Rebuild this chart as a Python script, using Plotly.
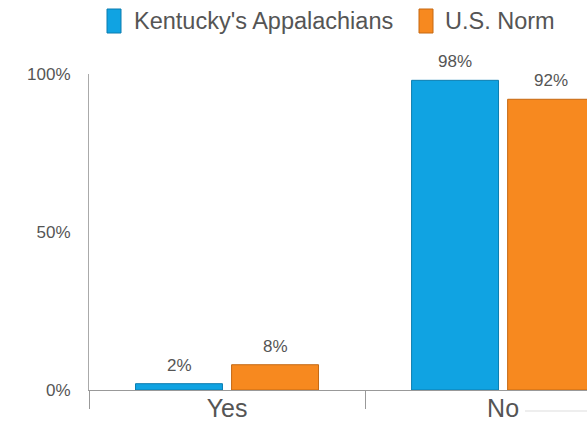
import plotly.graph_objects as go

categories = ["Yes", "No"]
kentucky = [2, 98]
us_norm = [8, 92]
series_names = ["Kentucky's Appalachians", "U.S. Norm"]
y_ticks = [0, 50, 100]

FONT = "Liberation Sans, Arial, sans-serif"
GREY = "#555555"
BLUE, BLUE_EDGE = "#10A3E2", "#0B7DB0"
ORANGE, ORANGE_EDGE = "#F7891F", "#C56812"

W, H = 587, 421
M_L, M_R, M_T, M_B = 89, 0, 74, 31
PW, PH = W - M_L - M_R, H - M_T - M_B


def pct(values):
    return [f"{v}%" for v in values]


def px_x(px):
    # pixel column -> paper x
    return (px - M_L) / PW


def px_y(py):
    # pixel row -> paper y
    return (H - M_B - py) / PH


fig = go.Figure()
fig.add_trace(go.Bar(
    x=categories, y=kentucky, name=series_names[0], showlegend=False,
    marker=dict(color=BLUE, line=dict(color=BLUE_EDGE, width=1)),
))
fig.add_trace(go.Bar(
    x=categories, y=us_norm, name=series_names[1], showlegend=False,
    marker=dict(color=ORANGE, line=dict(color=ORANGE_EDGE, width=1)),
))

# value labels above each bar
annotations = []
for vals, shift in ((kentucky, -48), (us_norm, 48)):
    for cat, v in zip(categories, vals):
        annotations.append(dict(
            x=cat, y=v, xref="x", yref="y", text=f"{v}%", showarrow=False,
            xshift=shift, yshift=7, yanchor="bottom",
            font=dict(size=17, color=GREY, family=FONT),
        ))

# legend: tall colour swatches with labels
shapes = []
legend_items = [(series_names[0], BLUE, BLUE_EDGE, 107, 132),
                (series_names[1], ORANGE, ORANGE_EDGE, 419, 443)]
for name, col, edge, box_x, text_x in legend_items:
    shapes.append(dict(
        type="rect", xref="paper", yref="paper",
        x0=px_x(box_x), x1=px_x(box_x + 14), y0=px_y(33), y1=px_y(9),
        fillcolor=col, line=dict(color=edge, width=1),
    ))
    annotations.append(dict(
        x=px_x(text_x), y=px_y(21), xref="paper", yref="paper", text=name,
        showarrow=False, xanchor="left", yanchor="middle",
        font=dict(size=23.5, color=GREY, family=FONT),
    ))

# faint rule at the lower right
shapes.append(dict(
    type="line", xref="paper", yref="paper",
    x0=px_x(525), x1=1.0, y0=px_y(411), y1=px_y(411),
    line=dict(color="#dddddd", width=1),
))

fig.update_layout(
    width=W, height=H,
    margin=dict(l=M_L, r=M_R, t=M_T, b=M_B),
    paper_bgcolor="white", plot_bgcolor="white",
    barmode="group", bargap=0.304, bargroupgap=0.095,
    font=dict(family=FONT, color=GREY),
    showlegend=False,
    annotations=annotations, shapes=shapes,
    xaxis=dict(
        range=[-0.5, 1.304], showline=True, linecolor="#999999", linewidth=1,
        tickson="boundaries", ticks="outside", ticklen=18, tickcolor="#999999",
        tickfont=dict(size=25, color=GREY), ticklabelstandoff=-4,
        showgrid=False, fixedrange=True,
    ),
    yaxis=dict(
        range=[0, 100], tickvals=y_ticks, ticktext=pct(y_ticks), showline=True,
        linecolor="#aaaaaa", linewidth=1, showgrid=False, zeroline=False,
        tickfont=dict(size=17, color=GREY), ticklabelstandoff=14,
    ),
)

fig.write_html("out.html")
